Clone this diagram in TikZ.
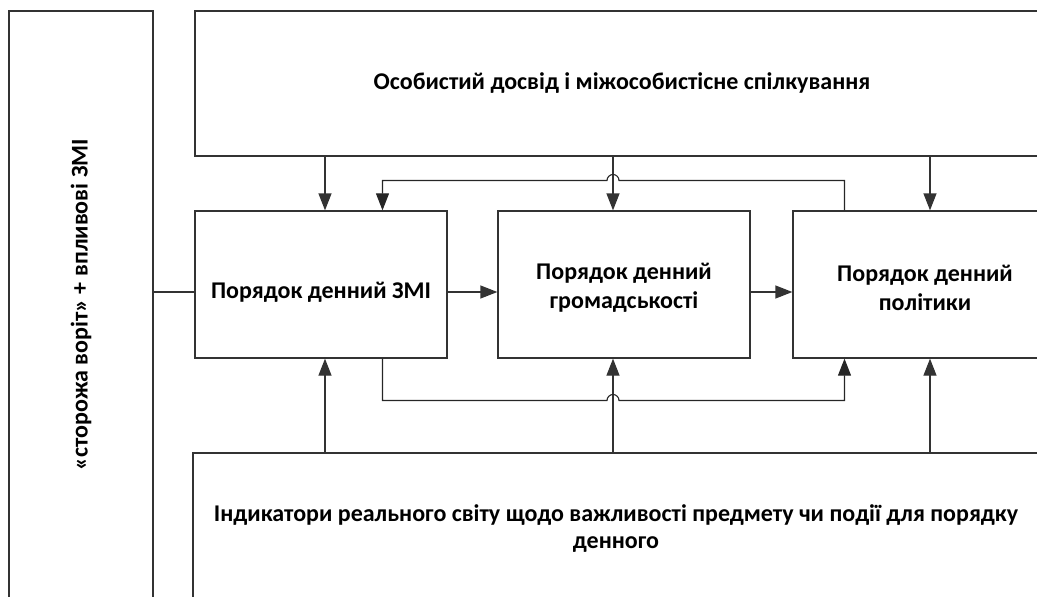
\documentclass[tikz,border=0pt]{standalone}
\usepackage{fontspec}
\setmainfont{Carlito}
\usetikzlibrary{arrows.meta}
\begin{document}
\begin{tikzpicture}[x=1pt,y=-1pt,
  box/.style={draw=black!80, line width=1.3pt, inner sep=0pt},
  lbl/.style={font=\bfseries\fontsize{24}{29}\selectfont, align=center, inner sep=0pt},
  conn/.style={draw=black!80, line width=1.3pt},
  arr/.style={conn, -{Triangle[length=17pt,width=13pt]}},
  fb/.style={draw=black!85, line width=1.1pt, -{Triangle[length=17pt,width=13pt]}}]
\useasboundingbox (0,0) rectangle (1037,597);
\clip (0,0) rectangle (1037,597);
% boxes
\node[box, minimum width=144pt, minimum height=588pt] (left) at (81,305) {};
\node[lbl, rotate=90] (lefttext) at (81,305) {«сторожа воріт» + впливові ЗМІ};
\node[box, minimum width=854pt, minimum height=145pt] (top) at (622,83.5) {};
\node[lbl] (toptext) at (622,83) {Особистий досвід і міжособистісне спілкування};
\node[box, minimum width=846pt, minimum height=151pt] (bot) at (616,528.5) {};
\node[lbl, font=\bfseries\fontsize{24}{27}\selectfont] (bottext) at (616,528.5) {Індикатори реального світу щодо важливості предмету чи події для порядку\\денного};
\node[box, minimum width=252pt, minimum height=147pt] (b1) at (321,284.5) {};
\node[lbl] (b1text) at (321,292) {Порядок денний ЗМІ};
\node[box, minimum width=252pt, minimum height=147pt] (b2) at (624,284.5) {};
\node[lbl] (b2text) at (624,287.5) {Порядок денний\\громадськості};
\node[box, minimum width=264pt, minimum height=147pt] (b3) at (925,284.5) {};
\node[lbl] (b3text) at (925,287.5) {Порядок денний\\політики};
% guide coordinates
\coordinate (xA) at (325,0);
\coordinate (xM) at (613,0);
\coordinate (xB) at (930,0);
\coordinate (xF1) at (382.5,0);
\coordinate (xF2) at (844.5,0);
\coordinate (yMid) at (0,292);
\coordinate (yTop) at (0,180.5);
\coordinate (yBot) at (0,400.5);
% top to row
\draw[arr] (top.south -| xA) -- (b1.north -| xA);
\draw[arr] (top.south -| xM) -- (b2.north -| xM);
\draw[arr] (top.south -| xB) -- (b3.north -| xB);
% bottom to row
\draw[arr] (bot.north -| xA) -- (b1.south -| xA);
\draw[arr] (bot.north -| xM) -- (b2.south -| xM);
\draw[arr] (bot.north -| xB) -- (b3.south -| xB);
% horizontal
\draw[conn] (left.east |- yMid) -- (b1.west |- yMid);
\draw[arr] (b1.east |- yMid) -- (b2.west |- yMid);
\draw[arr] (b2.east |- yMid) -- (b3.west |- yMid);
% feedback top
\draw[fb] (b3.north -| xF2) -- (xF2 |- yTop) -- ([xshift=6pt]xM |- yTop)
  arc[start angle=0, end angle=180, radius=6pt] -- (xF1 |- yTop) -- (b1.north -| xF1);
% feedback bottom
\draw[fb] (b1.south -| xF1) -- (xF1 |- yBot) -- ([xshift=-6pt]xM |- yBot)
  arc[start angle=180, end angle=0, radius=6pt] -- (xF2 |- yBot) -- (b3.south -| xF2);
\end{tikzpicture}
\end{document}
